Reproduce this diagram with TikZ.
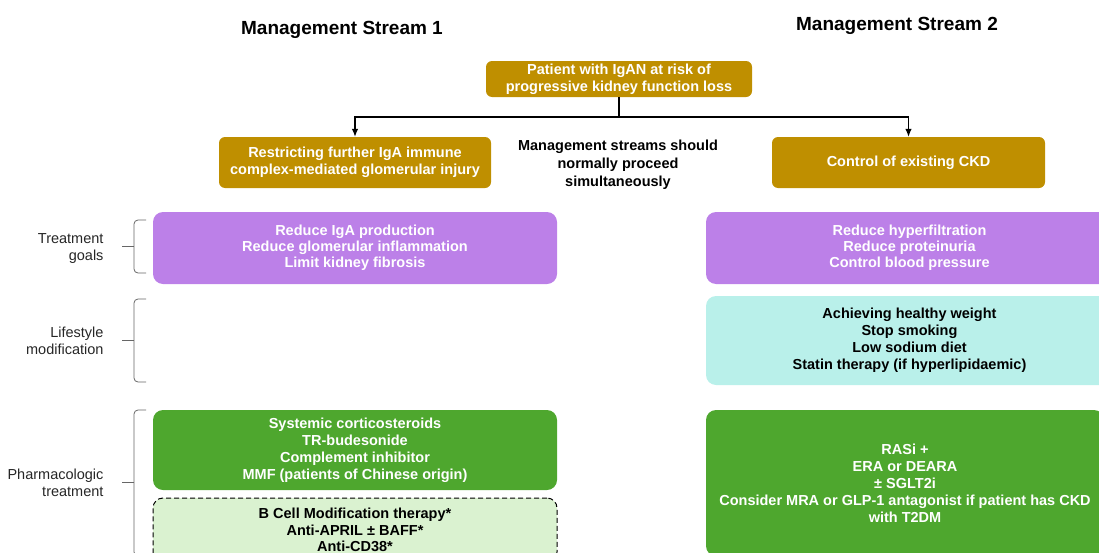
\documentclass[tikz,border=0pt]{standalone}
\usepackage{fontspec}
\setmainfont{Liberation Sans}
\usepackage{xcolor}
\usepackage{tikz}
\usetikzlibrary{arrows.meta,shapes}

\definecolor{gold}{HTML}{BF8F00}
\definecolor{lilac}{HTML}{BC80E8}
\definecolor{mint}{HTML}{B9F0EA}
\definecolor{leaf}{HTML}{4EA72E}
\definecolor{paleleaf}{HTML}{DAF2D0}

\tikzset{
    box/.style={rounded corners=10bp,align=center,inner sep=0pt,
        font={\fontsize{14.5bp}{17bp}\selectfont\bfseries}},
    goldbox/.style={box,fill=gold,text=white,rounded corners=6bp},
    goalbox/.style={box,fill=lilac,text=white,font={\fontsize{14.5bp}{16bp}\selectfont\bfseries}},
    lifebox/.style={box,fill=mint,text=black},
    drugbox/.style={box,fill=leaf,text=white},
    trialbox/.style={box,fill=paleleaf,text=black,draw=black,dash pattern=on 5bp off 3bp,line width=1bp,
        font={\fontsize{14.5bp}{16.5bp}\selectfont\bfseries}},
    heading/.style={font={\fontsize{19bp}{22bp}\selectfont\bfseries}},
    note/.style={align=center,font={\fontsize{14.5bp}{18bp}\selectfont\bfseries}},
    sidelabel/.style={anchor=east,align=right,text=black!85,
        font={\fontsize{14.5bp}{17bp}\selectfont}},
    bracket/.style={draw=black!60,line width=0.8bp,rounded corners=4bp},
    link/.style={line width=1.1bp,-{Latex[length=8bp,width=6.5bp]}}
}

\begin{document}
\begin{tikzpicture}

    \useasboundingbox (0,0) rectangle (1099bp,-553bp);
    \clip (0,0) rectangle (1099bp,-553bp);

    \node (stream1) at (342bp,-30bp)[heading] {Management Stream 1};
    \node (stream2) at (897bp,-26bp)[heading] {Management Stream 2};

    \node (patient) at (619bp,-79bp)[goldbox,minimum width=266bp,minimum height=36bp] {Patient with IgAN at risk of\\progressive kidney function loss};
    \node (restrict) at (355bp,-162.5bp)[goldbox,minimum width=272bp,minimum height=51bp] {Restricting further IgA immune\\complex-mediated glomerular injury};
    \node (ckd) at (908.5bp,-162.5bp)[goldbox,minimum width=273bp,minimum height=51bp] {Control of existing CKD};
    \node (note) at (618bp,-165bp)[note] {Management streams should\\normally proceed\\simultaneously};

    \coordinate (split) at (619bp,-117bp);
    \draw [line width=1.1bp] (patient) -- (split);
    \draw [link] (split) -| (restrict);
    \draw [link] (split) -| (ckd);

    \node (goals1) at (355bp,-248bp)[goalbox,minimum width=404bp,minimum height=72bp] {Reduce IgA production\\Reduce glomerular inflammation\\Limit kidney fibrosis};
    \node (goals2) at (909.5bp,-248bp)[goalbox,minimum width=407bp,minimum height=72bp] {Reduce hyperfiltration\\Reduce proteinuria\\Control blood pressure};
    \node (life2) at (909.5bp,-340.5bp)[lifebox,minimum width=407bp,minimum height=89bp] {Achieving healthy weight\\Stop smoking\\Low sodium diet\\Statin therapy (if hyperlipidaemic)};
    \node (drug1) at (355bp,-450bp)[drugbox,minimum width=404bp,minimum height=80bp] {Systemic corticosteroids\\TR-budesonide\\Complement inhibitor\\MMF (patients of Chinese origin)};
    \node (drug2) at (905bp,-483bp)[drugbox,minimum width=398bp,minimum height=146bp] {RASi +\\ERA or DEARA\\± SGLT2i\\Consider MRA or GLP-1 antagonist if patient has CKD\\with T2DM};
    \node (trial1) at (355bp,-530bp)[trialbox,minimum width=404bp,minimum height=64bp] {B Cell Modification therapy*\\Anti-APRIL ± BAFF*\\Anti-CD38*};

    \node (goalslbl) at (107bp,-248.5bp)[sidelabel] {Treatment\\goals};
    \node (lifelbl) at (107bp,-340.5bp)[sidelabel] {Lifestyle\\modification};
    \node (druglbl) at (107bp,-482.5bp)[sidelabel] {Pharmacologic\\treatment};

    \draw [bracket] (146bp,-220bp) -- (134bp,-220bp) -- (134bp,-273bp) -- (146bp,-273bp);
    \draw [bracket] (134bp,-246.5bp) -- (122bp,-246.5bp);
    \draw [bracket] (146bp,-299bp) -- (134bp,-299bp) -- (134bp,-382bp) -- (146bp,-382bp);
    \draw [bracket] (134bp,-340.5bp) -- (122bp,-340.5bp);
    \draw [bracket] (146bp,-410bp) -- (134bp,-410bp) -- (134bp,-556bp) -- (146bp,-556bp);
    \draw [bracket] (134bp,-482bp) -- (122bp,-482bp);
\end{tikzpicture}
\end{document}
